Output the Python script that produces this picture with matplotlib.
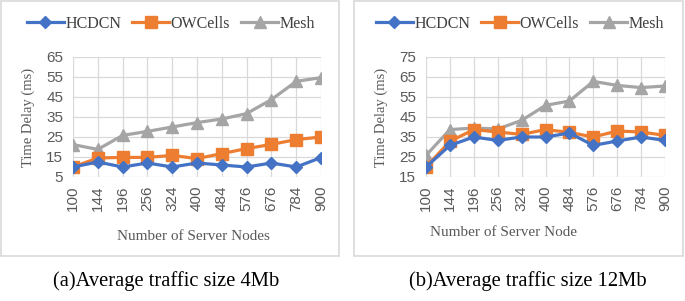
import matplotlib.pyplot as plt
from matplotlib.patches import Rectangle

# données
noeuds = ['100', '144', '196', '256', '324', '400', '484', '576', '676', '784', '900']

hcdcn_4mb = [10, 12.5, 10, 12, 10, 12, 11, 10, 12, 10, 14.7]
owcells_4mb = [10, 14.5, 14.8, 14.8, 15.8, 14.2, 16.7, 19.2, 21.3, 23.7, 25]
mesh_4mb = [21.2, 18.8, 25.8, 27.8, 30, 32.2, 34, 36.7, 43.7, 52.8, 54.7]

hcdcn_12mb = [20, 30.8, 35, 33.3, 35, 35, 37, 30.8, 33, 35, 33.3]
owcells_12mb = [20, 32.8, 38.7, 37.5, 36.3, 38.7, 37.3, 35, 38, 37.5, 35.8]
mesh_12mb = [25.8, 38.7, 39.5, 39, 43.3, 50.8, 53, 62.8, 60.8, 59.7, 60.5]

bleu = '#4472C4'
orange = '#ED7D31'
gris = '#A5A5A5'

W, H = 685, 301
fig = plt.figure(figsize=(W / 100, H / 100), dpi=100)


def px(x0, y0, x1, y1):
    # rectangle en pixels (origine en haut) -> coordonnées figure
    return [x0 / W, 1 - y1 / H, (x1 - x0) / W, (y1 - y0) / H]


def panneau(box, zone, h, o, m, ymin, ymax, xlabel):
    fig.patches.append(Rectangle((box[0], box[1]), box[2], box[3],
                                 transform=fig.transFigure, fill=False,
                                 edgecolor='#D9D9D9', linewidth=1.2))
    ax = fig.add_axes(zone)
    x = range(len(noeuds))
    ax.plot(x, h, color=bleu, marker='D', markersize=6, linewidth=2.3, label='HCDCN', zorder=5)
    ax.plot(x, o, color=orange, marker='s', markersize=8, linewidth=2.3, label='OWCells', zorder=4)
    ax.plot(x, m, color=gris, marker='^', markersize=8, linewidth=2.3, label='Mesh', zorder=3)
    ax.set_xlim(0, len(noeuds) - 1)
    ax.set_ylim(ymin, ymax)
    ax.set_yticks(range(ymin, ymax + 1, 10))
    ax.set_xticks(list(x))
    ax.set_xticklabels(noeuds, rotation=90)
    ax.grid(True, color='#D9D9D9', linewidth=0.9)
    ax.set_axisbelow(True)
    for s in ax.spines.values():
        s.set_visible(False)
    ax.tick_params(length=0, labelsize=11, labelcolor='#595959')
    ax.tick_params(axis='y', pad=7)
    ax.tick_params(axis='x', pad=6)
    for t in ax.get_xticklabels() + ax.get_yticklabels():
        t.set_fontfamily('Liberation Sans')
    ax.set_ylabel('Time Delay (ms)', family='Liberation Serif', fontsize=10.5, color='#595959', labelpad=8)
    fig.text(xlabel[1] / W, 1 - xlabel[2] / H, xlabel[0], family='Liberation Serif',
             fontsize=11, color='#595959', ha='center', va='center')
    return ax


ax1 = panneau(px(1, 1, 339, 256), px(73, 57, 321, 177), hcdcn_4mb, owcells_4mb, mesh_4mb,
              5, 65, ('Number of Server Nodes', 193, 237))
ax2 = panneau(px(354, 1, 683, 256), px(426, 57, 665, 177), hcdcn_12mb, owcells_12mb, mesh_12mb,
              15, 75, ('Number of Server Node', 503, 233))

for ax, cx in [(ax1, 171 / W), (ax2, 520 / W)]:
    fig.legend(handles=ax.get_lines(), loc='center', bbox_to_anchor=(cx, 1 - 24 / H),
               ncol=3, frameon=False, prop={'family': 'Liberation Serif', 'size': 11.5},
               handlelength=2.3, handletextpad=0.1, columnspacing=0.7, labelcolor='#404040')

fig.text(166 / W, 1 - 281 / H, '(a)Average traffic size 4Mb', family='Liberation Serif',
         fontsize=14.8, ha='center', va='center')
fig.text(528 / W, 1 - 281 / H, '(b)Average traffic size 12Mb', family='Liberation Serif',
         fontsize=14.8, ha='center', va='center')

plt.savefig('out.png', dpi=100)
